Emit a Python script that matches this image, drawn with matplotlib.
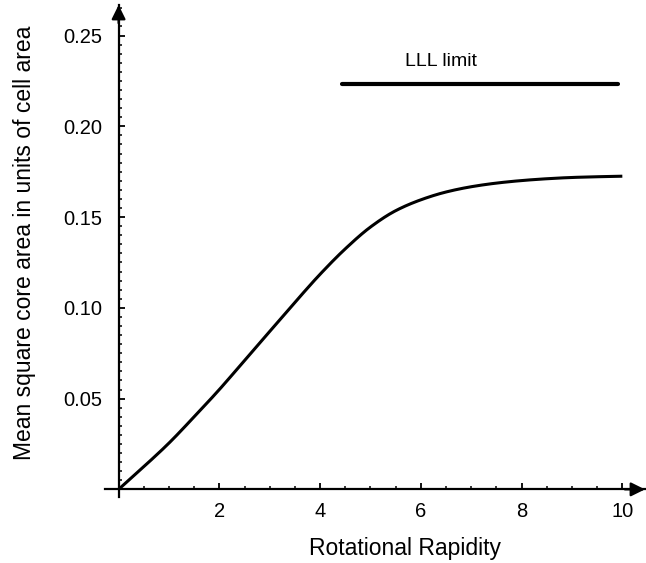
import numpy as np
import matplotlib
matplotlib.use("Agg")
import matplotlib.pyplot as plt
from matplotlib.ticker import MultipleLocator, FixedLocator

plt.rcParams['font.family'] = ['Liberation Sans', 'DejaVu Sans']

# Data
rapidity = [0, 0.5, 1, 1.5, 2, 2.5, 3, 3.5, 4, 4.5, 5, 5.5, 6, 6.5, 7, 7.5, 8, 8.5, 9, 9.5, 10]
core_area = [0.0, 0.0125, 0.0255, 0.040, 0.055, 0.071, 0.087, 0.103, 0.1185, 0.1325, 0.1445,
             0.1535, 0.1595, 0.1638, 0.1667, 0.1687, 0.1701, 0.1711, 0.1718, 0.1722, 0.1725]
lll_x = [4.43, 9.92]
lll_y = [0.2235, 0.2235]
lll_label = "LLL limit"
x_ticks = [2, 4, 6, 8, 10]
y_ticks = [0.05, 0.10, 0.15, 0.20, 0.25]
y_tick_labels = ["0.05", "0.10", "0.15", "0.20", "0.25"]


def pchip(x, y, xs):
    x = np.asarray(x, float); y = np.asarray(y, float)
    h = np.diff(x); d = np.diff(y) / h
    m = np.zeros_like(y)
    for k in range(1, len(x) - 1):
        if d[k - 1] * d[k] > 0:
            w1 = 2 * h[k] + h[k - 1]; w2 = h[k] + 2 * h[k - 1]
            m[k] = (w1 + w2) / (w1 / d[k - 1] + w2 / d[k])
    m[0] = d[0]; m[-1] = d[-1]
    idx = np.clip(np.searchsorted(x, xs) - 1, 0, len(x) - 2)
    t = (xs - x[idx]) / h[idx]
    h00 = 2 * t**3 - 3 * t**2 + 1; h10 = t**3 - 2 * t**2 + t
    h01 = -2 * t**3 + 3 * t**2; h11 = t**3 - t**2
    return h00 * y[idx] + h10 * h[idx] * m[idx] + h01 * y[idx + 1] + h11 * h[idx] * m[idx + 1]


fig = plt.figure(figsize=(6.46, 5.63), dpi=100)
W, H = 646, 563
x0, x1 = 105, 645
y0, y1 = 497, 5
ax = fig.add_axes([x0 / W, 1 - y0 / H, (x1 - x0) / W, (y0 - y1) / H])
xmin, xmax = -0.27, 10.45
ymin, ymax = -0.0042, 0.2668
ax.set_xlim(xmin, xmax)
ax.set_ylim(ymin, ymax)

xs = np.linspace(0, 10, 600)
ax.plot(xs, pchip(rapidity, core_area, xs), color='black', lw=2.2, solid_capstyle='butt', zorder=3)
ax.plot(lll_x, lll_y, color='black', lw=3.0, solid_capstyle='round', zorder=3)
ax.text(np.mean(lll_x) - 0.78, 0.2355, lll_label, fontsize=14, ha='center', va='center')

for s in ['top', 'right']:
    ax.spines[s].set_visible(False)
ax.spines['left'].set_position(('data', 0))
ax.spines['bottom'].set_position(('data', 0))
for s in ['left', 'bottom']:
    ax.spines[s].set_linewidth(1.6)

# arrowheads
ax.annotate('', xy=(xmax, 0), xytext=(xmax - 0.4, 0),
            arrowprops=dict(arrowstyle='-|>,head_length=0.85,head_width=0.42', color='black', lw=1.6,
                            shrinkA=0, shrinkB=0), annotation_clip=False)
ax.annotate('', xy=(0, ymax), xytext=(0, ymax - 0.01),
            arrowprops=dict(arrowstyle='-|>,head_length=0.85,head_width=0.42', color='black', lw=1.6,
                            shrinkA=0, shrinkB=0), annotation_clip=False)

ax.xaxis.set_major_locator(FixedLocator(x_ticks))
ax.xaxis.set_minor_locator(MultipleLocator(0.5))
ax.yaxis.set_major_locator(FixedLocator(y_ticks))
ax.yaxis.set_minor_locator(MultipleLocator(0.005))
ax.set_yticklabels(y_tick_labels)
ax.tick_params(which='major', direction='in', length=4, width=1.3, labelsize=14.5)
ax.tick_params(which='minor', direction='in', length=2.5, width=1.1)
ax.tick_params(axis='x', which='major', pad=9)
ax.tick_params(axis='y', which='major', pad=12)

fig.text(405 / W, 1 - 548 / H, "Rotational Rapidity", fontsize=16.5, ha='center', va='center')
fig.text(25 / W, 1 - 243 / H, "Mean square core area in units of cell area", fontsize=16.5,
         ha='center', va='center', rotation=90)

fig.savefig('out.png', dpi=100)
